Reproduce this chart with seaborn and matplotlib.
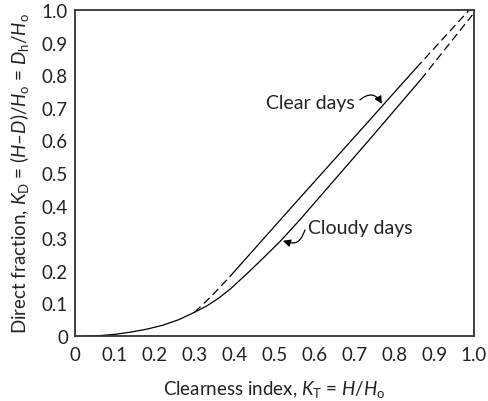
import matplotlib
matplotlib.use("Agg")
import matplotlib.pyplot as plt
from matplotlib.path import Path
from matplotlib.patches import FancyArrowPatch
import seaborn as sns
import pandas as pd

sns.set_theme(style="white")
plt.rcParams['font.family'] = ['Lato', 'DejaVu Sans']
plt.rcParams['mathtext.fontset'] = 'custom'
plt.rcParams['mathtext.rm'] = 'Lato'
plt.rcParams['mathtext.it'] = 'Lato:italic'
plt.rcParams['mathtext.bf'] = 'Lato:bold'

# Shared low-clearness branch
common_kt = [0.03, 0.06, 0.10, 0.14, 0.18, 0.22, 0.26, 0.30]
common_kd = [0.0, 0.001, 0.005, 0.012, 0.021, 0.033, 0.050, 0.073]

# Clear days: dashed lead-in, measured solid part, dashed extension
clear_lead_kt = [0.30, 0.345, 0.388]
clear_lead_kd = [0.073, 0.126, 0.182]
clear_kt = [0.388, 0.539, 0.7185, 0.855]
clear_kd = [0.182, 0.39, 0.635, 0.822]
clear_ext_kt = [0.855, 0.988]
clear_ext_kd = [0.822, 1.0]

# Cloudy days: measured solid part, dashed extension
cloudy_kt = [0.30, 0.33, 0.36, 0.39, 0.43, 0.47, 0.514, 0.564, 0.739, 0.867]
cloudy_kd = [0.073, 0.092, 0.116, 0.145, 0.19, 0.237, 0.29, 0.357, 0.604, 0.787]
cloudy_ext_kt = [0.867, 0.996]
cloudy_ext_kd = [0.787, 0.985]

ticks = [0, 0.1, 0.2, 0.3, 0.4, 0.5, 0.6, 0.7, 0.8, 0.9, 1.0]
tick_labels = ["0", "0.1", "0.2", "0.3", "0.4", "0.5", "0.6", "0.7", "0.8", "0.9", "1.0"]

fig = plt.figure(figsize=(4.88, 4.02), dpi=100)
ax = fig.add_axes([75 / 488, 65 / 402, 399 / 488, 326 / 402])

solid = dict(color="black", lw=0.9)
dashed = dict(color="black", lw=0.9, linestyle=(0, (6.5, 3.5)))

segments = [
    (common_kt, common_kd, solid),
    (clear_lead_kt, clear_lead_kd, dashed),
    (clear_kt, clear_kd, solid),
    (clear_ext_kt, clear_ext_kd, dashed),
    (cloudy_kt, cloudy_kd, solid),
    (cloudy_ext_kt, cloudy_ext_kd, dashed),
]
for xs, ys, style in segments:
    df = pd.DataFrame({"KT": xs, "KD": ys})
    sns.lineplot(data=df, x="KT", y="KD", ax=ax, sort=False, **style)

ax.set_xlim(0, 1.0)
ax.set_ylim(0, 1.0)
ax.set_xticks(ticks)
ax.set_xticklabels(tick_labels)
ax.set_yticks(ticks)
ax.set_yticklabels(tick_labels)
ax.tick_params(axis="both", length=0, labelsize=13.5, colors="#222222")
ax.tick_params(axis="x", pad=7)
ax.tick_params(axis="y", pad=5)
for sp in ax.spines.values():
    sp.set_visible(True)
    sp.set_color("#333333")
    sp.set_linewidth(1.3)

ax.set_xlabel(r"Clearness index, $K_\mathrm{T}$ = $H/H_\mathrm{o}$", fontsize=13.5,
              color="#222222", labelpad=11)
ax.set_ylabel(r"Direct fraction, $K_\mathrm{D}$ = $(H$–$D)/H_\mathrm{o}$ = $D_\mathrm{h}/H_\mathrm{o}$",
              fontsize=13.5, color="#222222", labelpad=8)

# Curve labels with pointer arrows
ax.text(0.70, 0.717, "Clear days", fontsize=14, ha="right", va="center", color="#222222")
ax.annotate("", xy=(0.769, 0.712), xytext=(0.714, 0.724),
            arrowprops=dict(arrowstyle="-|>", connectionstyle="arc3,rad=-0.6",
                            color="black", lw=0.9, shrinkA=0, shrinkB=0,
                            mutation_scale=11))

ax.text(0.584, 0.334, "Cloudy days", fontsize=14, ha="left", va="center", color="#222222")
wave = Path([(0.5764, 0.3252), (0.5639, 0.2853), (0.5539, 0.2791), (0.521, 0.292)],
            [Path.MOVETO, Path.CURVE4, Path.CURVE4, Path.CURVE4])
ax.add_patch(FancyArrowPatch(path=wave, arrowstyle="-|>", color="black", lw=0.9,
                             mutation_scale=11, shrinkA=0, shrinkB=0))

fig.savefig("out.png", dpi=100)
